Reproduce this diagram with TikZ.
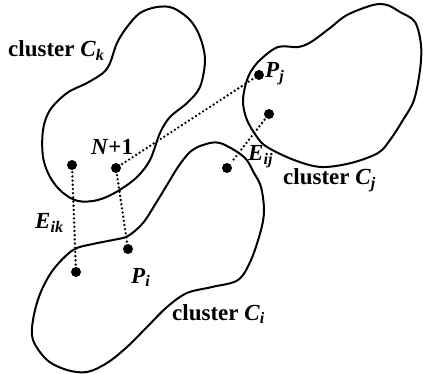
\documentclass[tikz,border=0pt]{standalone}
\usepackage{fontspec}
\setmainfont{Liberation Serif}
\newcommand{\labeltext}{\fontsize{23}{26}\selectfont\bfseries}
\newcommand{\bi}[1]{\textit{#1}}

\begin{document}
\begin{tikzpicture}[x=1pt,y=-1pt,
  outline/.style={line width=2pt,line join=round},
  dot/.style={circle,fill=black,inner sep=0pt,minimum size=10pt},
  link/.style={line width=2.6pt,line cap=round,dash pattern=on 0pt off 4.2pt,shorten <=2pt,shorten >=2pt},
  lbl/.style={anchor=base west,inner sep=0pt,font=\labeltext}]
\useasboundingbox (0,0) rectangle (423,374);
% cluster outlines
\draw[outline] plot[smooth cycle,tension=0.55] coordinates {(157,7) (173,8) (190,20) (200,37) (205,60) (200,87) (187,103) (170,117) (160,133) (150,160) (137,177) (118,191) (98,200) (78,201) (62,192) (50,177) (43,157) (43,130) (50,110) (67,93) (87,83) (103,73) (110,63) (117,43) (127,27) (140,13)};
\draw[outline] plot[smooth cycle,tension=0.55] coordinates {(373,5) (387,5) (400,12) (415,22) (421,45) (420,70) (414,100) (403,120) (390,140) (378,153) (351,163) (321,167) (294,160) (267,147) (257,137) (247,120) (243,103) (245,87) (250,73) (260,60) (278,47) (298,47) (311,42) (330,28) (347,15)};
\draw[outline] plot[smooth cycle,tension=0.55] coordinates {(220,143) (244,157) (254,173) (261,187) (264,210) (261,230) (251,260) (238,280) (212,287) (187,293) (167,307) (147,327) (127,347) (107,363) (87,372) (67,370) (47,360) (33,340) (33,320) (40,294) (53,270) (73,250) (93,244) (113,240) (128,236) (143,223) (156,203) (167,185) (178,167) (190,152) (203,145)};
% points
\node[dot] (k1) at (72,165) {};
\node[dot] (n1) at (116,168) {};
\node[dot] (pj) at (259,75) {};
\node[dot] (j2) at (269,114) {};
\node[dot] (i1) at (227,168) {};
\node[dot] (pi) at (128,249) {};
\node[dot] (i2) at (76,272) {};
% dotted links
\draw[link] (k1) -- (i2);
\draw[link] (n1) -- (pi);
\draw[link] (n1) -- (pj);
\draw[link] (j2) -- (i1);
% labels
\node[lbl] (lk) at (8,57) {cluster \bi{C}\textsubscript{\bi{k}}};
\node[lbl] (lj) at (283,185) {cluster \bi{C}\textsubscript{\bi{j}}};
\node[lbl] (li) at (172,320) {cluster \bi{C}\textsubscript{\bi{i}}};
\node[lbl] (ln) at (91,155) {\bi{N}+1};
\node[lbl] (lpj) at (265,78) {\bi{P}\textsubscript{\bi{j}}};
\node[lbl] (lpi) at (131,283) {\bi{P}\textsubscript{\bi{i}}};
\node[lbl] (lij) at (248,161) {\bi{E}\textsubscript{\bi{ij}}};
\node[lbl] (lik) at (35,229) {\bi{E}\textsubscript{\bi{ik}}};
\end{tikzpicture}
\end{document}
